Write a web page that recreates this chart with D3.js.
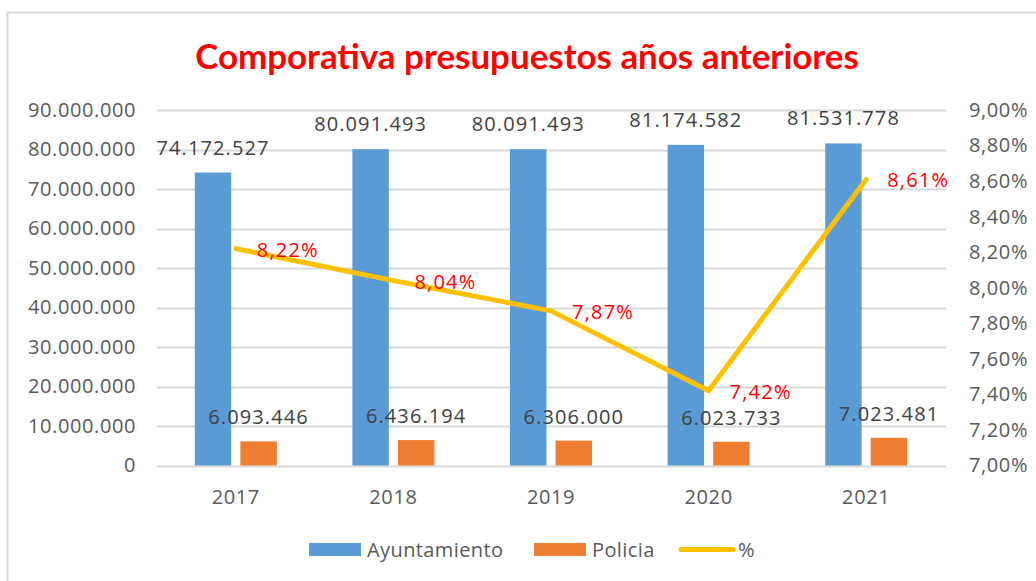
<!DOCTYPE html>
<html>
<head>
<meta charset="utf-8">
<script src="https://cdn.jsdelivr.net/npm/d3@7"></script>
<style>
  body { margin: 0; background: #fff; }
  svg text { font-family: "Open Sans", sans-serif; fill: #595959; }
</style>
</head>
<body>
<svg id="chart" width="1036" height="581"></svg>
<script>
// chart data
var years = ['2017', '2018', '2019', '2020', '2021'];
var ayuntamiento = [74172527, 80091493, 80091493, 81174582, 81531778];
var policia = [6093446, 6436194, 6306000, 6023733, 7023481];
var percent = [0.0822, 0.0804, 0.0787, 0.0742, 0.0861];
var leftTicks = [0, 10e6, 20e6, 30e6, 40e6, 50e6, 60e6, 70e6, 80e6, 90e6];
var rightTicks = [0.07, 0.072, 0.074, 0.076, 0.078, 0.08, 0.082, 0.084, 0.086, 0.088, 0.09];
var seriesNames = ['Ayuntamiento', 'Policia', '%'];

var svg = d3.select('#chart');

// spanish number formats
var es = d3.formatLocale({decimal: ',', thousands: '.', grouping: [3], currency: ['', '€']});
var fmtNum = es.format(',d');
var fmtPct = es.format('.2%');

// axis text style helper
var axisText = function(g) {
  g.selectAll('text')
    .style('font-size', '20px')
    .style('letter-spacing', '0.6px')
    .style('font-family', '"Open Sans", sans-serif')
    .style('fill', '#595959');
}

// outer chart frame
svg.append('rect')
  .attr('x', 7.5).attr('y', 12.5)
  .attr('width', 1040).attr('height', 600)
  .attr('fill', 'none').attr('stroke', '#d9d9d9').attr('stroke-width', 2);

// title
var title = svg.append('text')
  .attr('x', 527).attr('y', 57)
  .attr('text-anchor', 'middle').attr('dy', '.35em')
  .style('font-family', 'Lato, sans-serif')
  .style('font-weight', 'bold')
  .style('fill', '#ff0000')
  .style('font-size', '30px')
  .text('Comporativa presupuestos años anteriores');
// fit title to the width of the original
var tw = title.node().getComputedTextLength();
title.style('font-size', (30 * 664 / tw) + 'px');

// scales
var x = d3.scaleBand().domain(years).range([157, 945]);
var inner = d3.scaleBand().domain(['a', 'p']).range([-41, 41]).paddingInner(0.2);
var yL = d3.scaleLinear().domain([0, 90e6]).range([465.5, 110]);
var yR = d3.scaleLinear().domain([0.07, 0.09]).range([465.5, 110]);

// gridlines
svg.append('g').selectAll('line')
  .data(leftTicks).enter().append('line')
  .attr('x1', 157).attr('x2', 946)
  .attr('y1', function(d){ return Math.round(yL(d)) + 0.5; })
  .attr('y2', function(d){ return Math.round(yL(d)) + 0.5; })
  .attr('stroke', '#d9d9d9').attr('stroke-width', 2);

// left axis
var gl = svg.append('g').attr('transform', 'translate(157,0)')
  .call(d3.axisLeft(yL).tickValues(leftTicks).tickFormat(fmtNum).tickSize(0).tickPadding(21));
gl.select('.domain').remove();
axisText(gl);

// right axis
var gr = svg.append('g').attr('transform', 'translate(946,0)')
  .call(d3.axisRight(yR).tickValues(rightTicks).tickFormat(fmtPct).tickSize(0).tickPadding(23));
gr.select('.domain').remove();
axisText(gr);

// bottom axis
var gb = svg.append('g').attr('transform', 'translate(0,466)')
  .call(d3.axisBottom(x).tickSize(0).tickPadding(24));
gb.select('.domain').remove();
axisText(gb);

// bars
var groups = svg.append('g').selectAll('g')
  .data(years).enter().append('g')
  .attr('transform', function(d){ return 'translate(' + (x(d) + x.bandwidth() / 2) + ',0)'; });

groups.append('rect')
  .attr('x', inner('a')).attr('width', inner.bandwidth())
  .attr('y', function(d, i){ return yL(ayuntamiento[i]); })
  .attr('height', function(d, i){ return yL(0) - yL(ayuntamiento[i]); })
  .attr('fill', '#5b9bd5');

groups.append('rect')
  .attr('x', inner('p')).attr('width', inner.bandwidth())
  .attr('y', function(d, i){ return yL(policia[i]); })
  .attr('height', function(d, i){ return yL(0) - yL(policia[i]); })
  .attr('fill', '#ed7d31');

// bar value labels
groups.append('text')
  .attr('x', inner('a') + inner.bandwidth() / 2)
  .attr('y', function(d, i){ return yL(ayuntamiento[i]) - 25; })
  .attr('dy', '.35em').attr('text-anchor', 'middle')
  .style('font-size', '20px').style('letter-spacing', '1.1px').style('fill', '#404040')
  .text(function(d, i){ return fmtNum(ayuntamiento[i]); });

groups.append('text')
  .attr('x', inner('p') + inner.bandwidth() / 2)
  .attr('y', function(d, i){ return yL(policia[i]) - 24; })
  .attr('dy', '.35em').attr('text-anchor', 'middle')
  .style('font-size', '20px').style('letter-spacing', '1.1px').style('fill', '#404040')
  .text(function(d, i){ return fmtNum(policia[i]); });

// percent line
var line = d3.line()
  .x(function(d, i){ return x(years[i]) + x.bandwidth() / 2; })
  .y(function(d){ return yR(d); });

svg.append('path')
  .datum(percent)
  .attr('d', line)
  .attr('fill', 'none').attr('stroke', '#ffc000')
  .attr('stroke-width', 5).attr('stroke-linecap', 'round').attr('stroke-linejoin', 'round');

svg.append('g').selectAll('text')
  .data(percent).enter().append('text')
  .attr('x', function(d, i){ return x(years[i]) + x.bandwidth() / 2 + 21; })
  .attr('y', function(d){ return yR(d) + 1; })
  .attr('dy', '.35em')
  .style('font-size', '20px').style('letter-spacing', '1.2px').style('fill', '#ff0000')
  .text(function(d){ return fmtPct(d); });

// legend
var legend = svg.append('g');
var legX = [309, 534, 679];
var textX = [367, 592, 738];
seriesNames.forEach(function(name, i){
  if (i < 2) {
    legend.append('rect')
      .attr('x', legX[i]).attr('y', 543).attr('width', 52).attr('height', 13)
      .attr('fill', i === 0 ? '#5b9bd5' : '#ed7d31');
  } else {
    legend.append('line')
      .attr('x1', legX[i] + 2).attr('x2', legX[i] + 54)
      .attr('y1', 549.5).attr('y2', 549.5)
      .attr('stroke', '#ffc000').attr('stroke-width', 5).attr('stroke-linecap', 'round');
  }
  legend.append('text')
    .attr('x', textX[i]).attr('y', 549.5).attr('dy', '.35em')
    .style('font-size', '20px').style('letter-spacing', '0.4px')
    .text(name);
});
</script>
</body>
</html>
